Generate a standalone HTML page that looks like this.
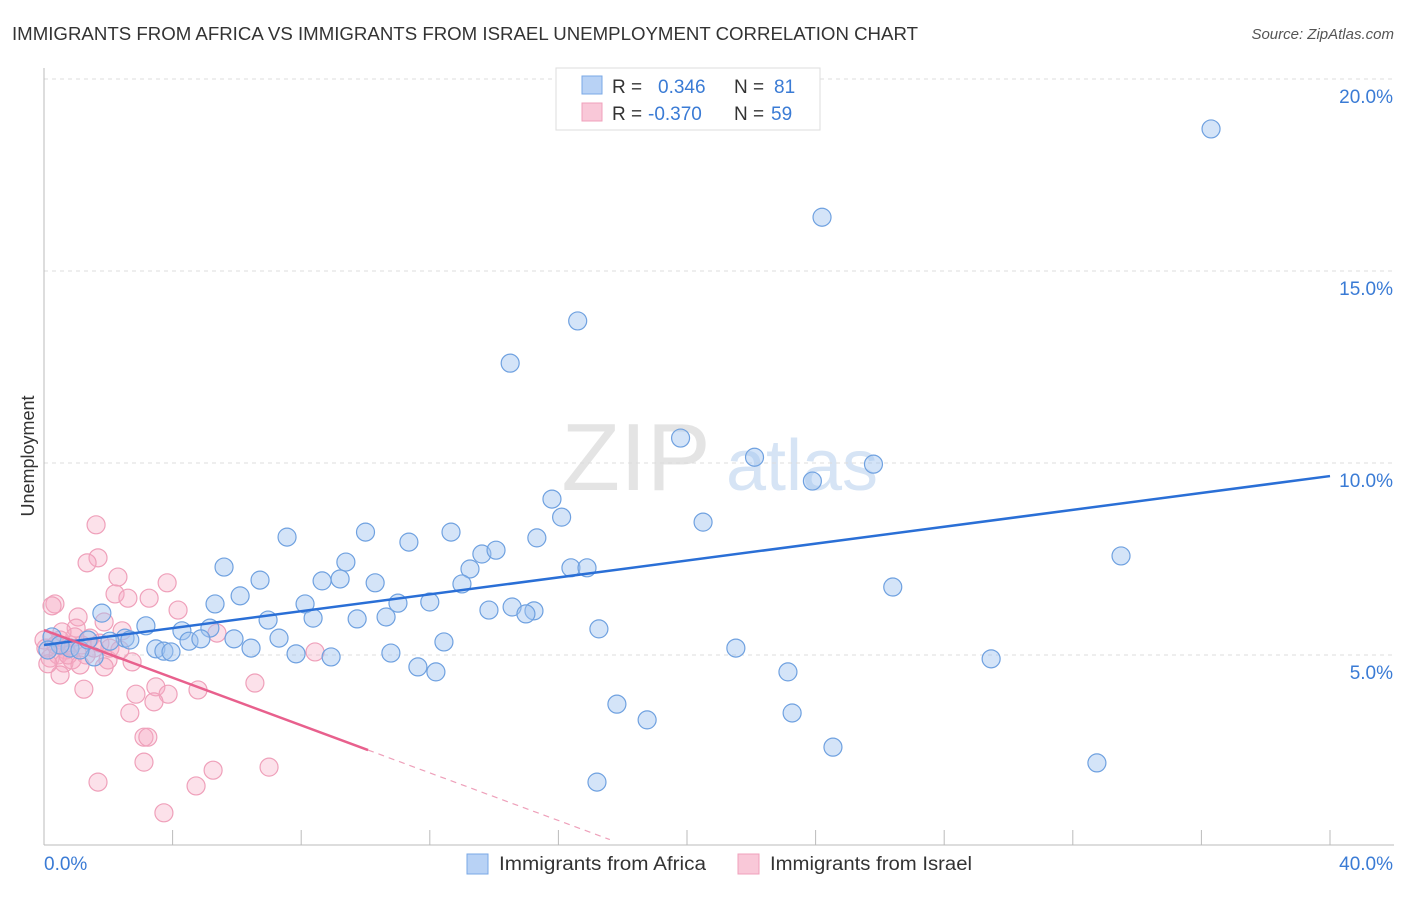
<!DOCTYPE html>
<html><head><meta charset="utf-8"><style>
body{margin:0;background:#fff;font-family:"Liberation Sans",sans-serif}
svg text{font-family:"Liberation Sans",sans-serif}
</style></head><body>
<svg id="chart" width="1406" height="892" xmlns="http://www.w3.org/2000/svg">
<text x="12" y="40" font-size="18" fill="#333" textLength="906" lengthAdjust="spacingAndGlyphs">IMMIGRANTS FROM AFRICA VS IMMIGRANTS FROM ISRAEL UNEMPLOYMENT CORRELATION CHART</text>
<text x="1394" y="39" font-size="15" fill="#555" text-anchor="end" font-style="italic">Source: ZipAtlas.com</text>
<g>
<text x="636" y="490" font-size="96" fill="#e4e4e4" text-anchor="middle" font-family="Liberation Serif,serif">ZIP</text>
<text x="802" y="490" font-size="72" fill="#d6e4f5" text-anchor="middle">atlas</text>
</g>
<g id="grid"></g>
<g id="axes"></g>
<text transform="translate(34,456) rotate(-90)" font-size="18" fill="#333" text-anchor="middle">Unemployment</text>
<g id="pts"></g>
<g id="lines"></g>
<g>
<rect x="556" y="68" width="264" height="62" fill="#fff" stroke="#ddd"/>
<rect x="582" y="76" width="20" height="18" fill="#b8d2f5" stroke="#7aa8e6"/>
<rect x="582" y="103" width="20" height="18" fill="#f9c8d8" stroke="#f0a0bb"/>
<text x="612" y="93" font-size="19" fill="#333">R = </text><text x="658" y="93" font-size="19" fill="#3a7bd5">0.346</text>
<text x="734" y="93" font-size="19" fill="#333">N = </text><text x="774" y="93" font-size="19" fill="#3a7bd5">81</text>
<text x="612" y="120" font-size="19" fill="#333">R = </text><text x="648" y="120" font-size="19" fill="#3a7bd5">-0.370</text>
<text x="734" y="120" font-size="19" fill="#333">N = </text><text x="771" y="120" font-size="19" fill="#3a7bd5">59</text>
</g>
<g>
<rect x="467" y="854" width="21" height="20" fill="#b8d2f5" stroke="#7aa8e6"/>
<text x="499" y="870" font-size="19" fill="#333" textLength="207" lengthAdjust="spacingAndGlyphs">Immigrants from Africa</text>
<rect x="738" y="854" width="21" height="20" fill="#f9c8d8" stroke="#f0a0bb"/>
<text x="770" y="870" font-size="19" fill="#333" textLength="202" lengthAdjust="spacingAndGlyphs">Immigrants from Israel</text>
</g>
</svg>
<script>
const yTicks=[5,10,15,20];
const yTickLabels=["5.0%","10.0%","15.0%","20.0%"];
const africaX=[36.3,24.2,16.6,14.5,19.8,22.1,25.8,23.9,15.8,16.1,20.5,7.56,10.0,12.66,11.35,15.33,13.62,14.06,33.5,5.6,9.39,13.25,16.39,16.89,6.72,8.65,9.21,10.3,13.0,26.4,6.1,5.32,8.12,11.01,12.0,13.84,14.56,15.24,14.99,1.8,6.97,8.37,9.74,10.64,3.17,4.29,5.16,17.26,0.25,2.52,2.67,4.51,4.88,5.91,7.31,12.44,3.48,3.73,3.95,6.44,7.84,8.93,10.79,21.52,29.46,1.56,0.81,0.5,1.12,11.63,12.19,23.14,17.82,18.76,23.27,24.54,32.75,17.2,2.05,1.37,0.12];
const africaY=[18.7,16.4,13.7,12.6,10.65,10.15,9.97,9.53,9.06,8.59,8.46,8.07,8.2,8.2,7.94,8.05,7.63,7.73,7.58,7.29,7.42,7.24,7.27,7.27,6.95,6.93,6.98,6.88,6.85,6.77,6.54,6.33,6.33,6.35,6.38,6.17,6.25,6.15,6.07,6.09,5.91,5.96,5.94,5.99,5.76,5.63,5.7,5.68,5.47,5.44,5.39,5.36,5.42,5.42,5.44,5.34,5.16,5.1,5.08,5.18,5.03,4.95,5.05,5.18,4.9,4.95,5.18,5.26,5.13,4.69,4.56,4.56,3.72,3.31,3.49,2.6,2.19,1.69,5.36,5.39,5.13];
const israelX=[1.62,1.68,1.34,2.3,3.83,0.34,0.25,2.21,2.61,3.27,4.17,1.06,1.87,1.0,2.43,5.38,0.06,0.5,0.81,1.18,1.43,0.68,0.19,0.44,1.74,1.31,0.87,0.62,1.99,0.5,1.24,2.74,1.87,2.86,3.48,3.86,4.79,3.42,6.56,2.67,3.11,3.23,3.11,5.26,7.0,1.68,4.73,3.73,8.43,2.05,1.56,0,0.12,2.36,0.75,1.12,0.37,0.96,0.56];
const israelY=[8.39,7.53,7.4,7.03,6.88,6.33,6.28,6.59,6.48,6.48,6.17,5.99,5.86,5.7,5.63,5.57,5.18,5.39,5.26,5.26,5.44,5.13,4.92,5.0,5.31,5.0,4.87,4.79,4.87,4.48,4.11,4.82,4.69,3.98,4.17,3.98,4.09,3.78,4.27,3.49,2.86,2.86,2.21,2.0,2.08,1.69,1.59,0.89,5.08,5.18,5.18,5.39,4.77,5.13,5.0,4.74,5.26,5.47,5.6];
const africaTrend=[5.26,9.66];
const israelTrend=[5.65,-0.31,10.08,17.6];
const NS="http://www.w3.org/2000/svg";
const X0=44,X1=1330,Y0=847;
const sx=v=>X0+(X1-X0)*v/40, sy=v=>Y0-v*38.4;
function mk(t,a,p){const e=document.createElementNS(NS,t);for(const k in a)e.setAttribute(k,a[k]);p.appendChild(e);return e;}
const grid=document.getElementById('grid'),axes=document.getElementById('axes');
yTicks.forEach((t,i)=>{
 const l=mk('line',{x1:X0,x2:1394,y1:sy(t),y2:sy(t),stroke:'#ddd','stroke-dasharray':'4,4'},grid);
 
 
 const tx=mk('text',{x:1393,y:sy(t)+24,'font-size':19,fill:'#3a7bd5','text-anchor':'end'},axes);
 tx.textContent=yTickLabels[i];
 
 
});
mk('line',{x1:X0,x2:X0,y1:68,y2:845,stroke:'#bbb'},axes);
mk('line',{x1:X0,x2:1394,y1:845,y2:845,stroke:'#bbb'},axes);
for(let i=0;i<=10;i++){const l=mk('line',{x1:sx(i*4),x2:sx(i*4),y1:830,y2:845,stroke:'#bbb'},axes);
 
 }
let t0=mk('text',{x:44,y:870,'font-size':19,fill:'#3a7bd5'},axes);t0.textContent='0.0%';


let t1=mk('text',{x:1393,y:870,'font-size':19,fill:'#3a7bd5','text-anchor':'end'},axes);t1.textContent='40.0%';


const pts=document.getElementById('pts');
function series(xs,ys,fill,stroke,name){xs.forEach((x,i)=>{const c=mk('circle',{cx:sx(x),cy:sy(ys[i]),r:9,fill:fill,stroke:stroke,'stroke-width':1.2},pts);
 
 });}
series(israelX,israelY,'rgba(245,170,195,0.35)','#efa0ba','israel-point');
series(africaX,africaY,'rgba(160,196,240,0.45)','#6fa1e0','africa-point');
const lines=document.getElementById('lines');
const bl=mk('line',{x1:sx(0),y1:sy(africaTrend[0]),x2:sx(40),y2:sy(africaTrend[1]),stroke:'#2a6fd6','stroke-width':2.5},lines);


const pf=x=>israelTrend[0]+israelTrend[1]*x;
const pl=mk('line',{x1:sx(0),y1:sy(pf(0)),x2:sx(israelTrend[2]),y2:sy(pf(israelTrend[2])),stroke:'#e8608d','stroke-width':2.5},lines);


const pd=mk('line',{x1:sx(israelTrend[2]),y1:sy(pf(israelTrend[2])),x2:sx(israelTrend[3]),y2:sy(Math.max(pf(israelTrend[3]),0)),stroke:'#eea0ba','stroke-width':1.2,'stroke-dasharray':'6,5'},lines);


</script>
</body></html>
